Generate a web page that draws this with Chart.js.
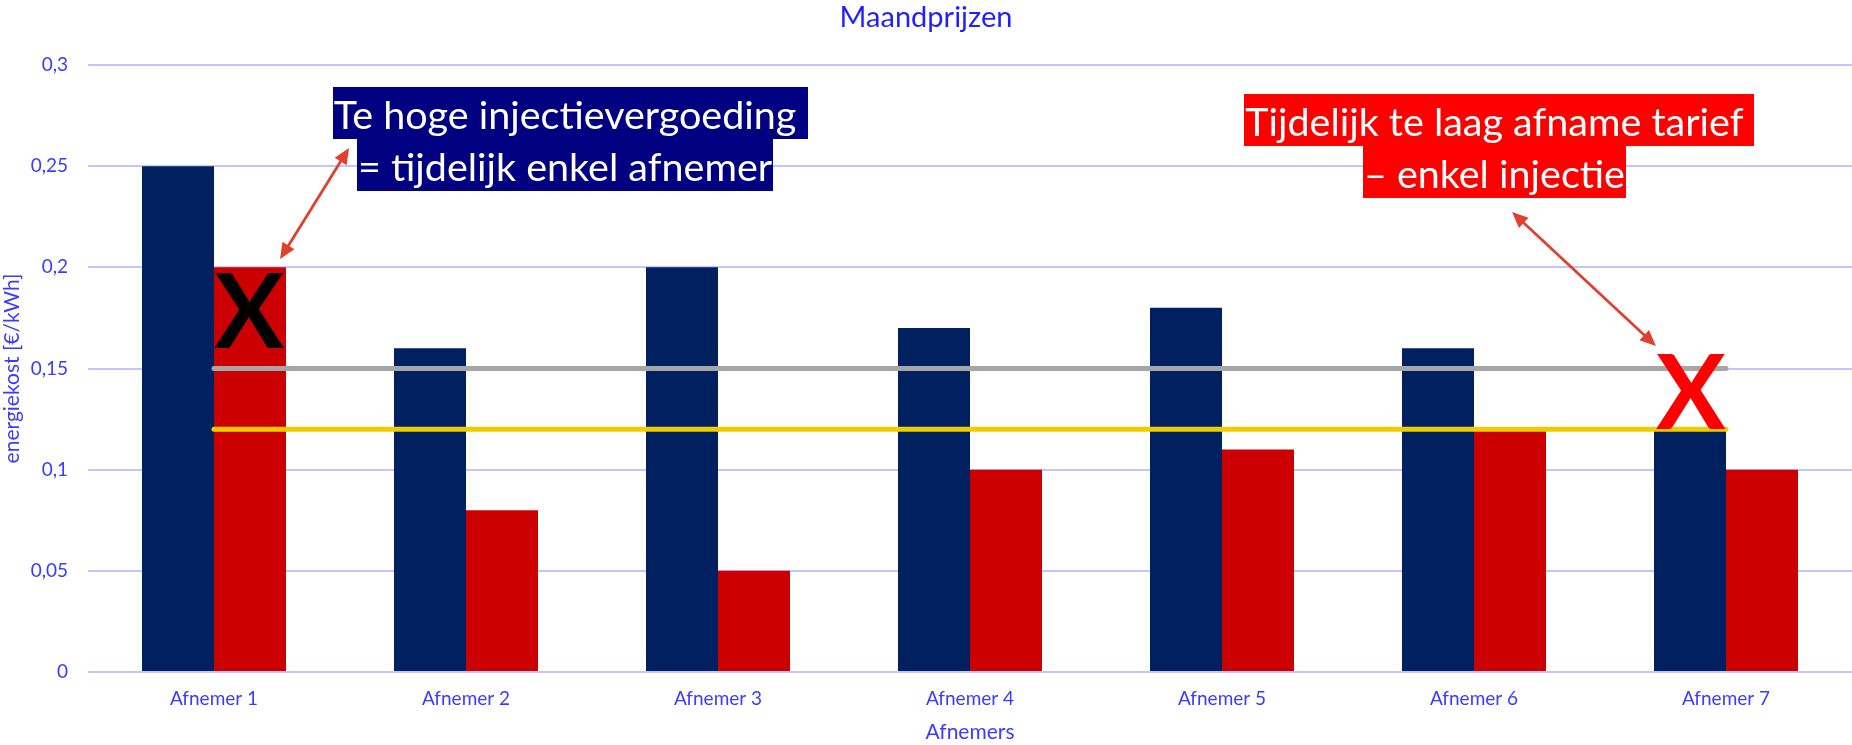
<!DOCTYPE html>
<html>
<head>
<meta charset="utf-8">
<script src="https://cdn.jsdelivr.net/npm/chart.js@4/dist/chart.umd.min.js"></script>
<style>
  html, body { margin: 0; padding: 0; background: #ffffff; }
  #wrap { width: 1852px; height: 745px; position: relative; }
</style>
</head>
<body>
<div id="wrap"><canvas id="c"></canvas></div>
<script>
// ---- data ----
const categories = ['Afnemer 1', 'Afnemer 2', 'Afnemer 3', 'Afnemer 4', 'Afnemer 5', 'Afnemer 6', 'Afnemer 7'];
const afnamePrijs   = [0.25, 0.16, 0.20, 0.17, 0.18, 0.16, 0.12];
const injectiePrijs = [0.20, 0.08, 0.05, 0.10, 0.11, 0.12, 0.10];
const grensAfname   = [0.15, 0.15, 0.15, 0.15, 0.15, 0.15, 0.15];
const grensInjectie = [0.12, 0.12, 0.12, 0.12, 0.12, 0.12, 0.12];
const yTickLabels   = ['0', '0,05', '0,1', '0,15', '0,2', '0,25', '0,3'];

// ---- annotations (anchored in data space: [category index, value]) ----
const noteBoxes = [
  { lines: ['Te hoge injectievergoeding', '= tijdelijk enkel afnemer'], at: [1.393, 0.2765], bg: '#000080' },
  { lines: ['Tijdelijk te laag afname tarief', '\u2013 enkel injectie'], at: [5.081, 0.2726], bg: '#FF0000' }
];
const noteArrows = [
  { from: [0.536, 0.2590], to: [0.262, 0.2041] },
  { from: [5.151, 0.2273], to: [5.722, 0.1611] }
];
const crossMarks = [
  { at: [0.139, 0.1601], color: '#000000' },
  { at: [5.861, 0.1201], color: '#FF0000' }
];

const FONT = 'Lato';
const TXT = '#3B3BFF';

function drawArrowHead(ctx, x, y, ang, len, half) {
  ctx.beginPath();
  ctx.moveTo(x, y);
  ctx.lineTo(x - len * Math.cos(ang) + half * Math.sin(ang), y - len * Math.sin(ang) - half * Math.cos(ang));
  ctx.lineTo(x - len * Math.cos(ang) - half * Math.sin(ang), y - len * Math.sin(ang) + half * Math.cos(ang));
  ctx.closePath();
  ctx.fill();
}

const annotPlugin = {
  id: 'annot',
  afterDatasetsDraw(chart) {
    const { ctx, scales: { x, y } } = chart;
    const px = v => x.getPixelForValue(v);
    const py = v => y.getPixelForValue(v);
    ctx.save();

    // arrows
    const col = '#E0402F';
    ctx.strokeStyle = col; ctx.fillStyle = col; ctx.lineWidth = 2.8;
    noteArrows.forEach(a => {
      const x1 = px(a.from[0]), y1 = py(a.from[1]);
      const x2 = px(a.to[0]), y2 = py(a.to[1]);
      const ang = Math.atan2(y2 - y1, x2 - x1);
      const L = 16;
      ctx.beginPath();
      ctx.moveTo(x1 + L * 0.8 * Math.cos(ang), y1 + L * 0.8 * Math.sin(ang));
      ctx.lineTo(x2 - L * 0.8 * Math.cos(ang), y2 - L * 0.8 * Math.sin(ang));
      ctx.stroke();
      drawArrowHead(ctx, x2, y2, ang, L, 7);
      drawArrowHead(ctx, x1, y1, ang + Math.PI, L, 7);
    });

    // text boxes
    ctx.font = '39.5px ' + FONT;
    ctx.textBaseline = 'alphabetic';
    ctx.textAlign = 'left';
    const spaceW = ctx.measureText(' ').width;
    noteBoxes.forEach(b => {
      const cx = px(b.at[0]);
      const cy = py(b.at[1]);
      b.lines.forEach((t, i) => {
        const w = ctx.measureText(t).width;
        const lc = cy + i * 52;
        const left = cx - w / 2;
        const bw = w + (i === 0 ? spaceW : 0);
        ctx.fillStyle = b.bg;
        ctx.fillRect(Math.round(left) - 1, Math.round(lc - 26), Math.round(bw) + 2, 52);
        ctx.fillStyle = '#FFFFFF';
        ctx.fillText(t, left, lc + 16);
      });
    });

    // X marks
    ctx.font = 'bold 104px ' + FONT;
    ctx.textAlign = 'center';
    ctx.textBaseline = 'alphabetic';
    crossMarks.forEach(m => {
      ctx.fillStyle = m.color;
      ctx.fillText('X', px(m.at[0]), py(m.at[1]));
    });
    ctx.restore();
  }
};

function build() {
  new Chart(document.getElementById('c'), {
    type: 'bar',
    data: {
      labels: categories,
      datasets: [
        { type: 'line', label: 'Grens afname', data: grensAfname, borderColor: '#A6A6A6', borderWidth: 5,
          borderCapStyle: 'round', pointRadius: 0, fill: false, order: 0 },
        { type: 'line', label: 'Grens injectie', data: grensInjectie, borderColor: '#EDCD00', borderWidth: 5,
          borderCapStyle: 'round', pointRadius: 0, fill: false, order: 0 },
        { label: 'Afname', data: afnamePrijs, backgroundColor: '#002060', borderWidth: 0, order: 1,
          categoryPercentage: 0.5714, barPercentage: 1.0 },
        { label: 'Injectie', data: injectiePrijs, backgroundColor: '#CC0000', borderWidth: 0, order: 1,
          categoryPercentage: 0.5714, barPercentage: 1.0 }
      ]
    },
    options: {
      responsive: true,
      maintainAspectRatio: false,
      animation: false,
      layout: { padding: 0 },
      plugins: {
        legend: { display: false },
        tooltip: { enabled: false },
        title: {
          display: true,
          text: 'Maandprijzen',
          color: '#1F1FFF',
          font: { family: FONT, size: 29, weight: 'normal', lineHeight: 1.2 },
          padding: { top: 0, bottom: 30.2 }
        }
      },
      scales: {
        x: {
          grid: { display: false, drawTicks: false },
          border: { display: false },
          ticks: { color: TXT, font: { family: FONT, size: 19 }, padding: 15, maxRotation: 0 },
          title: { display: true, text: 'Afnemers', color: TXT, font: { family: FONT, size: 21, lineHeight: 1.2 },
                   padding: { top: 0, bottom: 0 } },
          afterFit(s) { s.height = 73; }
        },
        y: {
          min: 0, max: 0.3,
          grid: { color: '#C4C4FF', lineWidth: 2, drawTicks: false },
          border: { display: false },
          ticks: {
            stepSize: 0.05, color: TXT, font: { family: FONT, size: 19 }, padding: 20,
            callback: (v) => yTickLabels[Math.round(v / 0.05)]
          },
          title: { display: true, text: 'energiekost [\u20AC/kWh]', color: TXT,
                   font: { family: FONT, size: 21, lineHeight: 1.2 }, padding: { top: 0, bottom: 0 } },
          afterFit(s) { s.width = 88; }
        }
      }
    },
    plugins: [annotPlugin]
  });
}

if (document.fonts && document.fonts.load) {
  Promise.all([
    document.fonts.load('19px Lato'),
    document.fonts.load('bold 104px Lato')
  ]).then(build, build);
} else {
  build();
}
</script>
</body>
</html>
